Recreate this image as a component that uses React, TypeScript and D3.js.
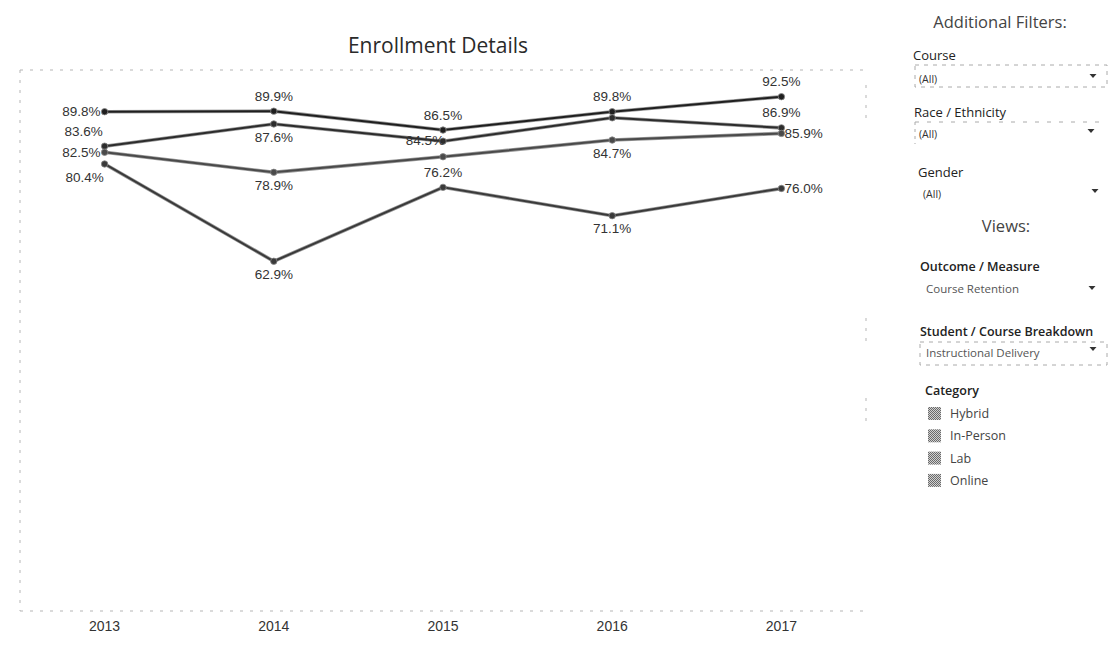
import React from 'react';
import * as d3 from 'd3';

const years = ['2013', '2014', '2015', '2016', '2017'];
const categories = ['Hybrid', 'In-Person', 'Lab', 'Online'];

const labValues = [89.8, 89.9, 86.5, 89.8, 92.5];
const hybridValues = [83.6, 87.6, 84.5, 88.7, 86.9];
const inPersonValues = [82.5, 78.9, 81.7, 84.7, 85.9];
const onlineValues = [80.4, 62.9, 76.2, 71.1, 76.0];

const labLabelPos = ['left', 'above', 'above', 'above', 'above'];
const hybridLabelPos = ['aboveLeft', 'below', 'onLeft', 'none', 'above'];
const inPersonLabelPos = ['left', 'below', 'none', 'below', 'right'];
const onlineLabelPos = ['belowLeft', 'below', 'above', 'below', 'right'];

const seriesList = [
  { name: 'Lab', values: labValues, pos: labLabelPos, color: '#1f1f1f' },
  { name: 'Hybrid', values: hybridValues, pos: hybridLabelPos, color: '#2c2c2c' },
  { name: 'In-Person', values: inPersonValues, pos: inPersonLabelPos, color: '#4a4a4a' },
  { name: 'Online', values: onlineValues, pos: onlineLabelPos, color: '#3a3a3a' },
];

const W = 1116;
const H = 652;
const plot = { left: 20, right: 866, top: 70, bottom: 611 };

export default function App() {
  const x = d3.scaleBand<string>().domain(years).range([plot.left, plot.right]);
  const y = d3.scaleLinear().domain([0, 100]).range([611, 55]);
  const cx = (yr: string) => (x(yr) as number) + x.bandwidth() / 2;
  const line = d3
    .line<number>()
    .x((_, i) => cx(years[i]))
    .y((v) => y(v));

  const labelFont = "'Liberation Sans', Arial, sans-serif";
  const uiFont = "'Open Sans', 'Noto Sans', sans-serif";

  const labelProps = (pos: string, px: number, py: number) => {
    switch (pos) {
      case 'left':
        return { x: px - 4, y: py + 1, anchor: 'end' };
      case 'right':
        return { x: px + 3, y: py + 1, anchor: 'start' };
      case 'above':
        return { x: px, y: py - 14, anchor: 'middle' };
      case 'below':
        return { x: px, y: py + 14, anchor: 'middle' };
      case 'aboveLeft':
        return { x: px - 21, y: py - 14, anchor: 'middle' };
      case 'belowLeft':
        return { x: px - 20, y: py + 14, anchor: 'middle' };
      case 'onLeft':
        return { x: px - 18, y: py, anchor: 'middle' };
      default:
        return null;
    }
  };

  const arrow = (ax: number, ay: number) => (
    <path d={`M${ax - 3.5},${ay - 2} L${ax + 3.5},${ay - 2} L${ax},${ay + 2} Z`} fill="#333" />
  );

  return (
    <svg
      width={W}
      height={H}
      style={{ position: 'absolute', left: 0, top: 0, background: '#fff' }}
    >
      <defs>
        <pattern id="dither" width="2" height="2" patternUnits="userSpaceOnUse">
          <rect width="2" height="2" fill="#d0d0d0" />
          <rect width="1" height="1" fill="#6a6a6a" />
          <rect x="1" y="1" width="1" height="1" fill="#6a6a6a" />
        </pattern>
      </defs>

      <text x={438} y={53} textAnchor="middle" fontFamily={uiFont} fontSize={21} fill="#2a2a2a">
        Enrollment Details
      </text>

      {/* faint borders */}
      <g stroke="#b5b5b5" strokeWidth={1} strokeDasharray="3,7" fill="none">
        <line x1={plot.left} x2={plot.right} y1={plot.top} y2={plot.top} />
        <line x1={plot.left} x2={plot.right} y1={plot.bottom} y2={plot.bottom} />
        <line x1={plot.left} x2={plot.left} y1={plot.top} y2={plot.bottom} />
        <line x1={plot.right} x2={plot.right} y1={plot.top + 15} y2={plot.top + 50} />
        <line x1={plot.right} x2={plot.right} y1={318} y2={348} />
        <line x1={plot.right} x2={plot.right} y1={398} y2={422} />
      </g>

      {/* lines */}
      {seriesList.map((s) => (
        <g key={s.name}>
          <path d={line(s.values) || ''} fill="none" stroke="#9a9a9a" strokeWidth={3.6} />
          <path d={line(s.values) || ''} fill="none" stroke={s.color} strokeWidth={2} />
          {s.values.map((v, i) => (
            <circle key={i} cx={cx(years[i])} cy={y(v)} r={3.2} fill={s.color} stroke="#888" strokeWidth={0.8} />
          ))}
        </g>
      ))}

      {/* labels */}
      {seriesList.map((s) =>
        s.values.map((v, i) => {
          const lp = labelProps(s.pos[i], cx(years[i]), y(v));
          if (!lp) return null;
          return (
            <text
              key={s.name + i}
              x={lp.x}
              y={lp.y}
              textAnchor={lp.anchor}
              dominantBaseline="middle"
              fontFamily={labelFont}
              fontSize={13.5}
              fill="#333"
            >
              {v.toFixed(1)}%
            </text>
          );
        })
      )}

      {/* x axis labels */}
      {years.map((yr) => (
        <text key={yr} x={cx(yr)} y={631} textAnchor="middle" fontFamily={labelFont} fontSize={14} fill="#333">
          {yr}
        </text>
      ))}

      {/* right panel */}
      <g fontFamily={uiFont} fill="#333">
        <text x={1000} y={28} textAnchor="middle" fontSize={16.5} fill="#444">
          Additional Filters:
        </text>

        <text x={913} y={60} fontSize={13} fill="#222">Course</text>
        <rect x={915} y={65} width={192} height={22} fill="none" stroke="#aaa" strokeDasharray="4,5" />
        <text x={919} y={83} fontSize={10.5} fill="#333">(All)</text>
        {arrow(1093, 76)}

        <text x={914} y={117} fontSize={13} fill="#222">Race / Ethnicity</text>
        <line x1={915} x2={1105} y1={122} y2={122} stroke="#aaa" strokeDasharray="4,8" />
        <line x1={915} x2={915} y1={122} y2={144} stroke="#aaa" strokeDasharray="3,4" />
        <text x={919} y={138} fontSize={10.5} fill="#333">(All)</text>
        {arrow(1091, 131)}

        <text x={918} y={177} fontSize={13} fill="#222">Gender</text>
        <text x={923} y={198} fontSize={10.5} fill="#333">(All)</text>
        {arrow(1095, 191)}

        <text x={1006} y={232} textAnchor="middle" fontSize={16.5} fill="#444">
          Views:
        </text>

        <text x={920} y={271} fontSize={12.5} fontWeight={600} fill="#222">
          Outcome / Measure
        </text>
        <text x={926} y={293} fontSize={11.5} fill="#555">
          Course Retention
        </text>
        {arrow(1092, 288)}

        <text x={920} y={336} fontSize={12.5} fontWeight={600} fill="#222">
          Student / Course Breakdown
        </text>
        <rect x={920} y={342} width={187} height={23} fill="none" stroke="#aaa" strokeDasharray="4,5" />
        <text x={926} y={357} fontSize={11.5} fill="#555">
          Instructional Delivery
        </text>
        {arrow(1093, 349)}

        <text x={925} y={395} fontSize={12.5} fontWeight={600} fill="#222">
          Category
        </text>
        {categories.map((c, i) => (
          <g key={c}>
            <rect x={928} y={407 + i * 22.3} width={13} height={13} fill="url(#dither)" />
            <text x={950} y={418 + i * 22.3} fontSize={12.5} fill="#444">
              {c}
            </text>
          </g>
        ))}
      </g>
    </svg>
  );
}
